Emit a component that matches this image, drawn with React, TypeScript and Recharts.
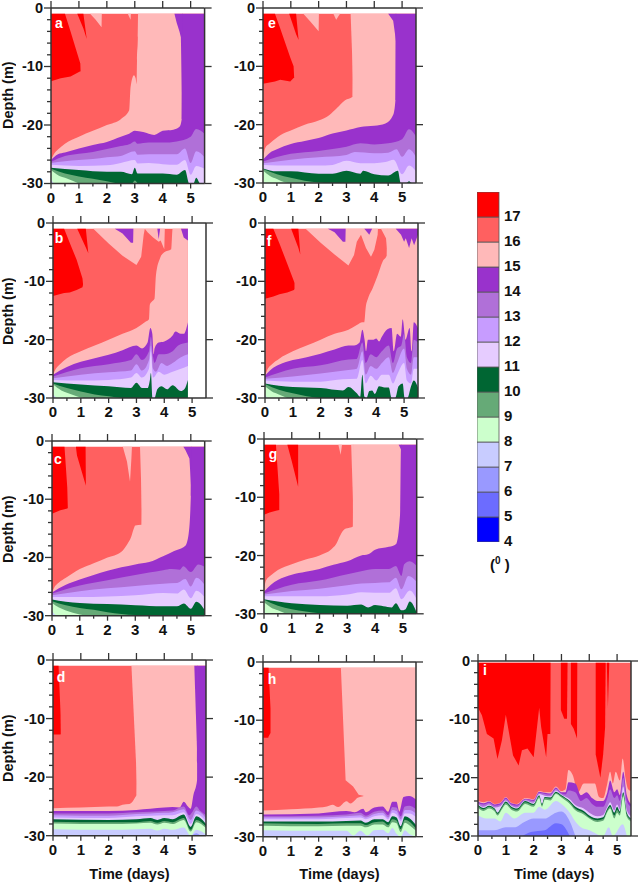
import React from 'react';
import { ComposedChart, BarChart, Bar, Area, XAxis, YAxis } from 'recharts';

type P2 = [number, number];
type P3 = [number, number, number];

const FONT = '"Liberation Sans", Arial, sans-serif';
const INK = '#333333';

// colour of each band, keyed by the band's upper temperature
const BAND_COLORS: Record<number, string> = {
  18: '#FF0000', 17: '#FF6060', 16: '#FFB9B9', 15: '#9932CC', 14: '#B070D8', 13: '#C79CFF', 12: '#E6CCFF',
  11: '#006633', 10: '#66AA77', 9: '#CCFFCC', 8: '#C8CCFF', 7: '#9999FF', 6: '#6C6CFF', 5: '#0000FF',
};
const legendLevels = [4, 5, 6, 7, 8, 9, 10, 11, 12, 13, 14, 15, 16, 17];
const legendValues = [1, 1, 1, 1, 1, 1, 1, 1, 1, 1, 1, 1, 1, 1];
const majorDays = [0, 1, 2, 3, 4, 5];
const allDays = [0, 0.5, 1, 1.5, 2, 2.5, 3, 3.5, 4, 4.5, 5];
const depthsMajor = [0, -10, -20, -30];
const depthsAll = [0, -2, -4, -6, -8, -10, -12, -14, -16, -18, -20, -22, -24, -26, -28, -30];

// ---------- panel a ----------
const a16: P2[] = [[0,-26],[.1,-25],[.25,-24.2],[.5,-23.2],[1,-22],[1.5,-21],[2,-20],[2.5,-19],[2.8,-17.5],[2.85,-13.5],[2.97,-11.5],[3.03,-12],[3.07,-13],[3.08,-9],[3.11,-5],[3.12,-1],[5.5,-1]];
const a15: P2[] = [[0,-26],[.25,-25],[.5,-24.7],[1,-24],[1.5,-23.4],[2,-22.9],[2.5,-22],[2.8,-21.5],[3,-21],[3.3,-21.2],[3.7,-21.7],[4,-21],[4.38,-20.8],[4.6,-20.3],[4.68,-19],[4.69,-1],[5.5,-1]];
const a14: P2[] = [[0,-26.3],[.5,-25.3],[1,-24.9],[1.5,-24.6],[2,-24.1],[2.5,-23.6],[2.8,-23.3],[3,-22.8],[3.1,-23.2],[3.5,-23],[4,-23],[4.5,-22.8],[5,-22],[5.2,-20.7],[5.5,-21.5]];
const a13: P2[] = [[0,-26.5],[.5,-26.2],[1,-26],[1.5,-25.8],[2,-25.5],[2.5,-25.3],[3,-24.5],[3.1,-25.1],[3.5,-25],[4,-25],[4.5,-25],[4.8,-24],[5,-26.5],[5.2,-24.5],[5.5,-25.5]];
const a12: P2[] = [[0,-26.8],[1,-27],[2,-26.9],[2.5,-26.5],[3,-26],[3.1,-26.6],[3.5,-26.5],[4,-26.7],[4.5,-26.8],[4.8,-26],[5,-28.5],[5.2,-27],[5.5,-27.5]];
const a11: P2[] = [[0,-27.3],[1,-27.7],[2,-28],[2.5,-28],[2.9,-28.4],[3,-27.3],[3.1,-28.3],[3.5,-28.3],[4,-28.3],[4.5,-28.5],[4.8,-27.7],[4.95,-30],[5.1,-30],[5.2,-29],[5.35,-30],[5.5,-30]];
const a10: P2[] = [[0,-27.5],[.5,-28.3],[1,-28.8],[1.5,-29.2],[2,-29.6],[2.5,-30],[2.9,-30],[3,-29.5],[3.1,-30]];
const a9: P2[] = [[0,-27.7],[.3,-28.7],[.5,-29],[1,-30]];
const a8: P2[] = [[0,-29.3],[.1,-30]];
const a17p: P3[] = [[0,-1,-12.5],[.35,-1,-12],[.5,-1,-11.9],[.7,-4,-11.7],[1.05,-9.5,-10.8],[1.06,-10.8,-10.9]];
const a17s: P3[] = [[.94,-1,-1],[1.16,-1,-3.5],[1.28,-5.3,-5.3]];
const aPink1: P3[] = [[1.4,-1,-1],[1.6,-1,-2],[1.81,-1,-3.3],[1.82,-1,-1]];
const aPink2: P3[] = [[2.75,-1,-1],[2.85,-1,-2],[2.86,-1,-1]];
const aPurple: P3[] = [[4.42,-1,-1],[4.5,-1,-2.5],[4.6,-1,-4],[4.65,-1,-5],[4.71,-1,-19]];

// ---------- panel b ----------
const b16: P2[] = [[0,-26],[.1,-25],[.25,-24.2],[.5,-23.2],[1,-22],[1.5,-21],[2,-20],[2.5,-19],[3,-18],[3.3,-17],[3.45,-16.5],[3.48,-14],[3.55,-13.5],[3.65,-13],[3.7,-9],[3.85,-6],[4,-5],[4.25,-4.5],[4.3,-1],[4.85,-1]];
const b15: P2[] = [[0,-26],[.5,-24.7],[1,-23.8],[1.5,-23.2],[2,-22.6],[2.5,-21.8],[3,-21],[3.2,-21.5],[3.4,-20.5],[3.5,-18],[3.57,-19],[3.62,-22.5],[3.65,-21.5],[3.8,-20.5],[4,-20.3],[4.3,-19.3],[4.4,-18.6],[4.6,-19],[4.7,-19],[4.85,-17]];
const b14: P2[] = [[0,-26.3],[1,-24.9],[2,-24.2],[2.8,-23.5],[3,-22.5],[3.2,-23.5],[3.45,-22],[3.52,-19.5],[3.6,-23],[3.65,-24],[3.8,-22.5],[4,-22.5],[4.3,-22],[4.5,-21],[4.85,-20.5]];
const b13: P2[] = [[0,-26.6],[1,-26],[2,-25.6],[2.8,-25.3],[3,-24.2],[3.2,-25.3],[3.45,-23.5],[3.52,-21],[3.6,-25],[3.7,-25.5],[3.9,-24],[4.1,-24.5],[4.3,-24],[4.6,-23],[4.85,-22.5]];
const b12: P2[] = [[0,-26.9],[1,-27],[2,-26.9],[2.8,-26.5],[3,-25.7],[3.2,-26.5],[3.45,-25],[3.52,-22],[3.6,-26.5],[3.8,-25.5],[4,-26],[4.3,-25.5],[4.6,-25],[4.85,-24.5]];
const b11: P2[] = [[0,-27.3],[1,-27.7],[2,-28],[2.8,-28.3],[3,-27.4],[3.2,-28.3],[3.4,-28.3],[3.48,-27],[3.52,-25.7],[3.58,-30],[3.65,-30],[3.75,-28.5],[3.9,-28],[4.1,-28.5],[4.3,-27.8],[4.6,-28.8],[4.72,-28.5],[4.85,-26.9]];
const b10: P2[] = [[0,-27.5],[.5,-28.3],[1,-28.9],[1.5,-29.4],[2,-29.7],[2.5,-30]];
const b9: P2[] = [[0,-27.7],[.3,-28.7],[.5,-29.1],[1,-29.9],[1.1,-30]];
const b8: P2[] = [[0,-29.4],[.12,-30]];
const b17p: P3[] = [[0,-1,-12.5],[.4,-1,-12],[.6,-3.4,-11.9],[.85,-6.3,-11.5],[1.06,-9.5,-11],[1.08,-10.5,-10.6]];
const b17s: P3[] = [[.87,-1,-1],[1.18,-1,-4.2],[1.27,-5.2,-5.2]];
const bPink1: P3[] = [[1.45,-1,-1],[2,-1,-3.5],[2.5,-1,-5.6],[3,-1,-7.2],[3.17,-1,-5.8],[3.26,-1,-2],[3.3,-1,-1]];
const bPink2: P3[] = [[3.3,-1,-1],[3.4,-1,-1.6],[3.6,-1,-2.5],[3.8,-1,-3.2],[3.87,-1,-3],[4,-1,-4.5],[4.02,-1,-1]];
const bPurple1: P3[] = [[2.22,-1,-1],[2.5,-1,-1.8],[2.8,-1,-3.4],[2.88,-1,-3.4],[2.89,-1,-1]];
const bPurple2: P3[] = [[3.75,-1,-1],[3.8,-1,-2.8],[3.85,-1,-1]];
const bPurple3: P3[] = [[4.6,-1,-1],[4.7,-1,-2.5],[4.85,-1,-3]];

// ---------- panel c ----------
const c16: P2[] = [[0,-26],[.1,-25],[.25,-24.3],[.5,-23.5],[1,-22],[1.5,-21],[2,-20],[2.5,-19],[2.7,-17.8],[2.85,-16.5],[2.95,-15],[3,-14.5],[3.22,-14.4],[3.23,-1],[5.5,-1]];
const c15: P2[] = [[0,-26],[.5,-24.7],[1,-23.8],[1.5,-23],[2,-22.3],[2.5,-21.7],[3,-21.2],[3.5,-20.8],[4,-19.8],[4.4,-18.9],[4.8,-18],[4.92,-16],[5,-9.5],[5.01,-1],[5.5,-1]];
const c14: P2[] = [[0,-26.2],[1,-24.8],[2,-23.9],[3,-23],[3.5,-22.6],[4,-22.2],[4.3,-22],[4.6,-22.1],[4.73,-21.5],[5,-22.5],[5.27,-21.2],[5.5,-21.6]];
const c13: P2[] = [[0,-26.5],[1,-25.8],[2,-25.3],[3,-24.9],[4,-24.5],[4.5,-24.4],[4.8,-23.7],[5,-25],[5.2,-23.5],[5.5,-24.7]];
const c12: P2[] = [[0,-26.8],[1,-26.8],[2,-26.7],[3,-26.5],[4,-26.1],[4.5,-26.2],[4.75,-25.5],[5,-27],[5.2,-25.7],[5.5,-26.8]];
const c11: P2[] = [[0,-27.2],[.5,-27.6],[1,-27.8],[2,-28],[3,-28.2],[4,-28.4],[4.5,-28.4],[4.75,-27.9],[5,-28.8],[5.2,-27.6],[5.5,-29]];
const c10: P2[] = [[0,-27.5],[.5,-28.2],[1,-28.7],[1.5,-29],[2,-29.4],[2.5,-29.7],[3,-29.9],[3.3,-30]];
const c9: P2[] = [[0,-27.8],[.25,-28.6],[.5,-29.1],[1,-29.8],[1.2,-30]];
const c8: P2[] = [[0,-29.2],[.1,-29.8],[.2,-30]];
const c17p: P3[] = [[0,-1,-12.5],[.3,-1,-11.9],[.45,-1,-11.7],[.55,-8,-11.6],[.57,-11.5,-11.5]];
const c17s: P3[] = [[.86,-1,-1],[.9,-1,-2.5],[1.21,-1,-7.5],[1.22,-7.7,-7.7]];
const cPink: P3[] = [[2.55,-1,-1],[2.7,-1,-3.5],[2.81,-1,-7],[2.86,-1,-3],[2.88,-1,-1]];
const cPink2: P3[] = [[3.17,-1,-1],[3.25,-1,-13]];
const cPurple: P3[] = [[4.73,-1,-1],[4.8,-1,-1.5],[4.95,-1,-3],[5.03,-1,-9.5]];

// ---------- panel d ----------
const d16: P2[] = [[0,-25.3],[1,-25.2],[2,-25],[2.3,-25],[2.5,-24.7],[2.75,-24.6],[2.95,-23.5],[3,-23],[3.01,-1],[5.5,-1]];
const d15: P2[] = [[0,-25.8],[1,-25.8],[2,-25.8],[3,-25.6],[3.5,-25.4],[4,-25.2],[4.3,-25.1],[4.55,-25.2],[4.7,-24.2],[4.85,-25],[4.95,-25.4],[5.05,-23],[5.18,-20.5],[5.19,-1],[5.5,-1]];
const d14: P2[] = [[0,-26.2],[2,-26.2],[3,-26],[4,-25.8],[4.3,-25.7],[4.7,-25],[4.9,-26.5],[5,-26],[5.15,-25],[5.3,-25.8],[5.5,-26.5]];
const d13: P2[] = [[0,-26.5],[2,-26.6],[3,-26.3],[3.5,-26.2],[4,-26.1],[4.3,-26],[4.7,-25.5],[4.95,-27.3],[5.15,-25.7],[5.5,-27]];
const d12: P2[] = [[0,-26.9],[2,-27],[3,-26.7],[3.5,-26.6],[4,-26.5],[4.3,-26.5],[4.7,-26],[4.95,-28],[5.15,-26.3],[5.5,-27.5]];
const d11: P2[] = [[0,-27.2],[2,-27.3],[3,-27.2],[3.5,-27],[3.75,-27.3],[4,-27],[4.3,-27.2],[4.7,-26.4],[4.95,-28.5],[5.15,-26.7],[5.5,-28]];
const d10: P2[] = [[0,-27.6],[2,-27.7],[3,-27.7],[3.5,-27.5],[3.75,-27.8],[4,-27.5],[4.3,-27.7],[4.7,-27],[4.95,-29],[5.15,-27.3],[5.5,-28.4]];
const d9: P2[] = [[0,-27.9],[2,-28],[3,-27.9],[3.5,-27.8],[3.75,-28.1],[4,-27.8],[4.3,-28],[4.7,-27.3],[4.95,-29.3],[5.15,-27.7],[5.5,-28.7]];
const d8: P2[] = [[0,-28.9],[2,-29],[3,-28.9],[3.5,-28.8],[3.75,-29.1],[4,-28.8],[4.3,-29],[4.7,-28.6],[4.95,-30],[5.15,-29],[5.5,-29.8]];
const d7: P2[] = [[5,-30],[5.15,-29.6],[5.3,-30]];
const d17p: P3[] = [[0,-1,-12.7],[.2,-1,-12.7],[.27,-9,-12.7],[.28,-12.5,-12.6]];
const dPink: P3[] = [[2.82,-1,-1],[3.03,-1,-22]];
const dPurple: P3[] = [[5.08,-1,-1],[5.21,-1,-20]];

// ---------- panel e ----------
const e16: P2[] = [[0,-26],[.08,-24],[.25,-23.2],[.62,-21.8],[1,-21],[1.5,-20],[2,-19.3],[2.4,-18.3],[2.65,-17.2],[2.95,-15.8],[3.22,-15.2],[3.23,-1],[5.5,-1]];
const e15: P2[] = [[0,-26],[.25,-24.8],[.5,-24.2],[1,-23.3],[1.5,-22.8],[2,-22.3],[2.5,-21.5],[3,-21],[3.5,-20.4],[4,-20.2],[4.4,-19.8],[4.68,-18.3],[4.76,-15.8],[4.77,-1],[5.5,-1]];
const e14: P2[] = [[0,-26.3],[1,-25],[2,-24.5],[3,-23.8],[3.5,-23.2],[4,-23.4],[4.5,-23.2],[5,-22.5],[5.25,-20.8],[5.5,-22]];
const e13: P2[] = [[0,-26.6],[1,-26],[2,-25.6],[3,-25.2],[3.3,-24.7],[4,-24.9],[4.5,-24.8],[4.8,-24.2],[5,-25.5],[5.25,-24.2],[5.5,-25.5]];
const e12: P2[] = [[0,-26.9],[1,-27],[2,-27],[2.5,-26.9],[3,-26.2],[3.5,-26.6],[4,-26.6],[4.4,-26.4],[4.7,-26],[5,-28.5],[5.25,-27],[5.5,-28]];
const e11: P2[] = [[0,-27.5],[.5,-28],[1,-28],[2,-28.4],[2.5,-28.4],[3,-27.9],[3.5,-28.4],[3.6,-27.9],[4,-28.5],[4.5,-28.7],[4.85,-27.9],[4.95,-30],[5.15,-30],[5.25,-29.7],[5.35,-30],[5.5,-30]];
const e10: P2[] = [[0,-27.6],[.5,-28.5],[1,-29.1],[1.5,-29.6],[2,-29.9],[2.2,-30]];
const e9: P2[] = [[0,-27.8],[.25,-28.8],[.5,-29.3],[.8,-29.9],[1,-30]];
const e8: P2[] = [[0,-29.7],[.05,-30]];
const e17p: P3[] = [[0,-1,-13],[.43,-1,-12.6],[.62,-3.5,-12.3],[.98,-8.5,-12.6],[1.1,-10,-12],[1.12,-11.9,-12]];
const e17s: P3[] = [[.94,-1,-1],[1.19,-1,-4.5],[1.28,-5.5,-5.5]];
const ePink1: P3[] = [[1.45,-1,-1],[1.7,-1,-2.3],[2,-1,-4],[2.01,-1,-1]];
const ePink2: P3[] = [[2.53,-1,-1],[2.63,-1,-2],[2.77,-1,-1]];
const ePink3: P3[] = [[3.15,-1,-1],[3.25,-1,-14]];
const ePurple: P3[] = [[4.5,-1,-1],[4.68,-1,-2.2],[4.79,-1,-6]];

// ---------- panel f ----------
const f16: P2[] = [[0,-26.2],[.1,-25],[.25,-24.2],[.5,-23.3],[1,-22],[1.5,-21],[2,-20],[2.5,-19],[3,-18.3],[3.3,-17.5],[3.5,-17],[3.57,-17],[3.62,-14.5],[3.7,-13],[3.87,-11.2],[4.05,-9],[4.23,-6.6],[4.38,-5.5],[4.39,-1],[5.5,-1]];
const f15: P2[] = [[0,-26.2],[.25,-25],[.5,-24.3],[1,-23.5],[1.5,-23],[2,-22.4],[2.5,-21.7],[3,-21],[3.2,-21],[3.4,-20.5],[3.5,-18.3],[3.58,-20],[3.63,-22],[3.7,-20],[3.9,-20],[4,-19.8],[4.1,-20.3],[4.2,-19.5],[4.4,-18.2],[4.55,-18],[4.63,-22],[4.75,-19],[4.88,-19.5],[4.95,-16.5],[5.05,-20],[5.2,-18],[5.27,-22],[5.35,-17],[5.5,-18]];
const f14: P2[] = [[0,-26.5],[1,-25],[2,-24.4],[3,-23.4],[3.3,-23.3],[3.5,-20.5],[3.62,-24],[3.8,-22.5],[4,-23],[4.2,-22],[4.45,-21],[4.6,-24],[4.75,-21.5],[4.9,-21],[5,-19],[5.1,-23],[5.25,-24],[5.35,-20],[5.5,-20.5]];
const f13: P2[] = [[0,-26.7],[1,-26.3],[2,-25.8],[3,-25.2],[3.3,-25],[3.5,-22],[3.62,-26],[3.8,-24.5],[4,-25],[4.2,-24],[4.45,-23],[4.6,-25.7],[4.75,-24],[5,-21.5],[5.1,-25],[5.25,-26],[5.35,-23],[5.5,-23]];
const f12: P2[] = [[0,-27],[1,-27.2],[2,-27.2],[2.8,-26.8],[3.3,-26.7],[3.5,-23.5],[3.62,-27.5],[3.8,-26.2],[4,-27],[4.2,-26],[4.45,-26],[4.6,-27.5],[4.75,-26],[5,-24],[5.1,-27],[5.25,-27.5],[5.35,-25],[5.5,-25]];
const f11: P2[] = [[0,-27.5],[.5,-27.9],[1,-28.1],[2,-28.3],[2.8,-28.7],[3,-28.1],[3.3,-29.2],[3.42,-29.8],[3.5,-26],[3.58,-29.8],[3.65,-30],[3.75,-28.8],[3.85,-28.7],[3.95,-29.3],[4.1,-28],[4.3,-28.2],[4.45,-28.2],[4.55,-30],[4.68,-30],[4.8,-28],[4.95,-27.5],[5.02,-30],[5.12,-30],[5.25,-28],[5.35,-27],[5.5,-28.2]];
const f10: P2[] = [[0,-27.6],[.5,-28.6],[1,-29.2],[1.5,-29.7],[2,-30]];
const f9: P2[] = [[0,-28],[.25,-28.9],[.5,-29.4],[.8,-30]];
const f8: P2[] = [[0,-29.5],[.08,-30]];
const f17p: P3[] = [[0,-1,-13],[.3,-1,-12.6],[.52,-3.5,-12.2],[.8,-7,-11.9],[1.04,-10,-11.5],[1.06,-10.3,-11.3]];
const f17s: P3[] = [[.94,-1,-1],[1.2,-1,-4.3],[1.27,-5.4,-5.4]];
const fPink1: P3[] = [[1.46,-1,-1],[2,-1,-3.4],[2.5,-1,-5.4],[3,-1,-7.3],[3.2,-1,-5.5],[3.3,-1,-3.2],[3.45,-1,-2],[3.63,-1,-4.3],[3.81,-1,-5.8],[3.93,-1,-4.6],[4.05,-1,-2],[4.06,-1,-1]];
const fPink2: P3[] = [[4.17,-1,-1],[4.35,-1,-2.6],[4.41,-1,-5.5]];
const fPurple1: P3[] = [[2.26,-1,-1],[2.5,-1,-1.6],[2.8,-1,-3.2],[2.89,-1,-3.2],[2.9,-1,-1]];
const fPurple2: P3[] = [[3.57,-1,-1],[3.75,-1,-2],[3.85,-1,-1]];
const fPurple3: P3[] = [[4.7,-1,-1],[4.89,-1,-2],[5,-1,-3.2],[5.06,-1,-2.6],[5.18,-1,-4.3],[5.27,-1,-2.6],[5.36,-1,-3.8],[5.5,-1,-2]];

// ---------- panel g ----------
const g16: P2[] = [[0,-26],[.07,-24.3],[.25,-23.4],[.5,-22.5],[1,-21.5],[1.5,-20.7],[2,-20],[2.5,-18.6],[2.6,-18],[2.75,-16.5],[2.9,-15.5],[3.1,-15.2],[3.2,-15],[3.21,-1],[5.5,-1]];
const g15: P2[] = [[0,-26.2],[.25,-25],[.5,-24.2],[1,-23.3],[1.5,-22.8],[2,-22.3],[2.5,-21.6],[3,-21],[3.5,-20],[3.75,-19.8],[4,-19],[4.5,-18.5],[4.76,-18],[4.9,-13],[4.93,-2],[4.94,-1],[5.5,-1]];
const g14: P2[] = [[0,-26.5],[1,-25],[2,-24.3],[3,-23.2],[3.5,-22.7],[4,-22.3],[4.5,-22.3],[4.75,-21.8],[4.95,-23.5],[5.05,-21.5],[5.25,-21],[5.5,-21.8]];
const g13: P2[] = [[0,-26.7],[1,-26.1],[2,-25.7],[3,-25.1],[3.5,-24.8],[4,-24.7],[4.5,-24.6],[4.75,-23.8],[4.95,-25.8],[5.2,-23.5],[5.5,-24.5]];
const g12: P2[] = [[0,-27],[1,-27],[2,-27],[3,-26.7],[3.5,-26.3],[4,-26.4],[4.5,-26.4],[4.75,-25.6],[4.95,-27.5],[5.25,-26],[5.5,-27.5]];
const g11: P2[] = [[0,-27.5],[.5,-27.9],[1,-28.2],[2,-28.5],[3,-28.6],[3.5,-28.4],[3.75,-28.9],[4,-28.5],[4.3,-28.7],[4.6,-28.9],[4.75,-28.2],[4.95,-29.4],[5.1,-29.2],[5.25,-27.9],[5.5,-29.8]];
const g10: P2[] = [[0,-27.6],[.5,-28.6],[1,-29.2],[1.5,-29.6],[2,-29.9],[2.2,-30]];
const g9: P2[] = [[0,-28],[.25,-28.9],[.5,-29.4],[.8,-30]];
const g8: P2[] = [[0,-29.6],[.05,-30]];
const g17p: P3[] = [[0,-1,-13],[.2,-1,-12.6],[.43,-1,-12.3],[.55,-9.5,-12.2]];
const g17s: P3[] = [[.84,-1,-1],[1,-1,-3.8],[1.23,-1,-8.2]];
const gPink: P3[] = [[2.68,-1,-1],[2.76,-1,-2.7],[2.81,-1,-1]];
const gPink2: P3[] = [[3.14,-1,-1],[3.23,-1,-14]];
const gPurple: P3[] = [[4.85,-1,-1],[4.96,-1,-2]];

// ---------- panel h ----------
const h16: P2[] = [[0,-25.5],[1,-25.3],[2,-25],[2.3,-24.8],[2.5,-24.5],[2.7,-24.9],[3,-23.9],[3.15,-24.3],[3.25,-24],[3.4,-23.3],[3.62,-23],[3.63,-1],[5.5,-1]];
const h15: P2[] = [[0,-26.2],[2,-26],[3,-25.6],[3.3,-25.8],[3.6,-25.2],[3.7,-25.8],[4,-25],[4.3,-24.8],[4.5,-25.7],[4.65,-24],[4.8,-24],[4.9,-25.7],[5.05,-23.2],[5.25,-23],[5.5,-23.6]];
const h14: P2[] = [[0,-26.5],[2,-26.4],[3,-26.2],[3.5,-25.9],[3.7,-26.4],[4,-25.7],[4.3,-25.5],[4.5,-26.3],[4.65,-24.9],[4.8,-25],[4.95,-26.5],[5.1,-24.8],[5.25,-24.7],[5.5,-25.3]];
const h13: P2[] = [[0,-26.7],[2,-26.7],[3,-26.5],[3.5,-26.3],[3.7,-26.7],[4,-26.1],[4.3,-25.9],[4.5,-26.7],[4.65,-25.4],[4.8,-25.6],[4.95,-27],[5.1,-25.4],[5.25,-25.4],[5.5,-26]];
const h12: P2[] = [[0,-27],[2,-27],[3,-26.8],[3.5,-26.7],[3.7,-27],[4,-26.5],[4.3,-26.3],[4.5,-27],[4.65,-25.9],[4.8,-26.2],[4.95,-27.3],[5.1,-26],[5.25,-26],[5.5,-26.6]];
const h11: P2[] = [[0,-27.4],[2,-27.4],[3,-27.3],[3.5,-27.2],[3.7,-27.6],[4,-27],[4.3,-27],[4.5,-27.5],[4.65,-26.5],[4.8,-26.7],[4.95,-28.2],[5.1,-26.5],[5.25,-26.8],[5.5,-28]];
const h10: P2[] = [[0,-27.7],[2,-27.8],[3,-27.7],[3.5,-27.7],[3.7,-28],[4,-27.5],[4.3,-27.4],[4.5,-28],[4.65,-27],[4.8,-27.2],[4.95,-28.7],[5.1,-27.1],[5.25,-27.4],[5.5,-28.6]];
const h9: P2[] = [[0,-28.1],[2,-28.2],[3,-28.1],[3.5,-28.1],[3.7,-28.4],[4,-27.9],[4.3,-27.9],[4.5,-28.4],[4.65,-27.5],[4.8,-27.7],[4.95,-29.2],[5.1,-27.6],[5.25,-28],[5.5,-29]];
const h8: P2[] = [[0,-28.9],[2,-29],[3,-29],[3.25,-29.8],[3.5,-29],[3.75,-29.8],[4,-28.9],[4.3,-28.8],[4.5,-29.4],[4.65,-28.5],[4.8,-29.5],[4.95,-30],[5.1,-28.9],[5.25,-29.5],[5.5,-30]];
const h17p: P3[] = [[0,-1,-13],[.19,-1,-13],[.2,-1,-12.8],[.27,-8,-12.2]];
const hPink: P3[] = [[2.8,-1,-1],[2.97,-1,-20.3],[3.24,-1,-21.4],[3.44,-1,-22.8],[3.65,-1,-23]];

// ---------- panel i ----------
const i16: P2[] = [[0,-24],[.2,-24.2],[.4,-24],[.6,-24.5],[.8,-24.3],[1,-23.3],[1.2,-24.3],[1.4,-24.5],[1.7,-23.5],[2,-23.7],[2.2,-22.3],[2.4,-22.5],[2.6,-22.5],[2.8,-21.5],[3,-22.3],[3.15,-22],[3.25,-18.7],[3.4,-19.5],[3.6,-22.5],[3.8,-21],[4,-21],[4.2,-21],[4.35,-23.3],[4.5,-23.5],[4.65,-21],[4.75,-19],[4.85,-21],[4.95,-19],[5.1,-20.5],[5.2,-16.7],[5.3,-20],[5.4,-22],[5.5,-22.3]];
const i15: P2[] = [[0,-24.1],[.2,-24.4],[.4,-24.1],[.6,-24.6],[.8,-24.4],[1,-23.4],[1.2,-24.4],[1.4,-24.6],[1.7,-23.6],[2,-23.8],[2.2,-22.4],[2.4,-22.6],[2.6,-22.7],[2.8,-21.7],[3,-22.5],[3.15,-22.5],[3.25,-20.8],[3.5,-21],[3.7,-23],[3.9,-22.5],[4.1,-23.5],[4.3,-24],[4.5,-24],[4.65,-22.5],[4.75,-20.5],[4.9,-22.5],[5,-22],[5.1,-23],[5.22,-19],[5.35,-23],[5.5,-24.5]];
const i14: P2[] = [[0,-24.3],[.2,-24.6],[.4,-24.3],[.6,-24.8],[.8,-24.6],[1,-23.6],[1.2,-24.6],[1.4,-24.8],[1.7,-23.7],[2,-24],[2.2,-22.6],[2.4,-22.8],[2.6,-22.9],[2.8,-21.9],[3,-22.7],[3.15,-22.9],[3.25,-22.2],[3.5,-22.5],[3.7,-24],[3.9,-23.5],[4.1,-24.5],[4.3,-25],[4.5,-25],[4.65,-23.5],[4.75,-22],[4.9,-23.5],[5,-23],[5.1,-24],[5.22,-20],[5.35,-24],[5.5,-25]];
const i12: P2[] = [[0,-24.5],[.2,-25],[.4,-24.6],[.6,-25.1],[.8,-24.9],[1,-23.9],[1.2,-24.8],[1.4,-25.1],[1.7,-23.9],[2,-24.3],[2.2,-22.8],[2.4,-23.1],[2.6,-23.2],[2.8,-22.2],[3,-22.9],[3.3,-23.7],[3.5,-24.7],[3.8,-25.3],[4,-26],[4.3,-26.6],[4.5,-26.4],[4.65,-25],[4.75,-24.2],[4.9,-25.6],[5,-24.6],[5.1,-25.4],[5.22,-21.5],[5.35,-25.6],[5.5,-26.6]];
const i11: P2[] = [[0,-24.7],[.2,-25.2],[.4,-24.8],[.6,-25.3],[.7,-26],[.85,-25],[1,-24.1],[1.2,-25],[1.4,-25.3],[1.7,-24],[2,-24.5],[2.2,-23],[2.3,-24.5],[2.4,-23.3],[2.6,-23.4],[2.8,-22.4],[3,-23],[3.3,-24],[3.5,-25],[3.8,-25.7],[4,-26.5],[4.3,-27],[4.5,-26.8],[4.65,-25.3],[4.75,-24.7],[4.9,-26],[5,-25],[5.1,-25.8],[5.22,-22.5],[5.35,-26],[5.5,-27]];
const i10: P2[] = [[0,-24.9],[.2,-25.4],[.4,-25],[.6,-25.5],[.7,-26.2],[.85,-25.2],[1,-24.3],[1.2,-25.2],[1.4,-25.5],[1.7,-24.2],[2,-24.7],[2.2,-23.2],[2.3,-24.7],[2.4,-23.5],[2.6,-23.6],[2.8,-22.6],[3,-23.2],[3.3,-24.2],[3.5,-25.3],[3.8,-26],[4,-26.8],[4.3,-27.3],[4.5,-27.1],[4.65,-25.6],[4.75,-25],[4.9,-26.5],[5,-25.5],[5.1,-26.1],[5.22,-22.8],[5.35,-26.3],[5.5,-27.2]];
const i9: P2[] = [[0,-25.2],[.2,-25.7],[.4,-25.3],[.6,-25.8],[.7,-26.5],[.85,-25.5],[1,-24.6],[1.2,-25.5],[1.4,-25.8],[1.7,-24.5],[2,-25],[2.2,-23.5],[2.3,-25],[2.4,-23.8],[2.6,-23.9],[2.8,-22.8],[3,-23.4],[3.3,-24.5],[3.5,-25.6],[3.8,-26.3],[4,-27],[4.3,-27.6],[4.5,-27.4],[4.65,-25.9],[4.75,-25.3],[4.9,-27],[5,-26],[5.1,-26.5],[5.22,-23.2],[5.35,-26.7],[5.5,-27.5]];
const i8: P2[] = [[0,-26.5],[.3,-27],[.6,-27],[.8,-27.5],[1,-26],[1.3,-27],[1.7,-26],[2,-26],[2.2,-25],[2.4,-25.5],[2.8,-24],[3,-24.5],[3.3,-26],[3.5,-27.5],[3.7,-28.5],[4,-29],[4.5,-30],[4.7,-28.5],[4.85,-30],[5.2,-28],[5.35,-30]];
const i7: P2[] = [[0,-29],[.3,-29],[.6,-29],[1,-28.5],[1.3,-28.5],[1.7,-27.5],[2,-27],[2.4,-27],[2.8,-26],[3,-25.8],[3.3,-27.5],[3.5,-30]];
const i6: P2[] = [[1.6,-30],[1.9,-29.3],[2.4,-29],[2.8,-27.8],[3,-28],[3.3,-30]];
const i17a: P3[] = [[0,-.3,-8],[.14,-.3,-9.3],[.32,-.3,-12.5],[.56,-.3,-13.3],[.7,-.3,-16.8],[.86,-.3,-13.6],[1,-.3,-9.2],[1.1,-.3,-11.9],[1.26,-.3,-16.2],[1.46,-.3,-17.9],[1.58,-.3,-15.3],[1.78,-.3,-15],[2,-.3,-16.5],[2.2,-.3,-8],[2.27,-.3,-11.3],[2.45,-.3,-16.5],[2.5,-.3,-12.5],[2.6,-.3,-12.5],[2.61,-.3,-.3]];
const i17b: P3[] = [[2.98,-.3,-8.4],[3.1,-.3,-9.9],[3.2,-.3,-9.9],[3.22,-.3,-.3]];
const i17c: P3[] = [[3.34,-.3,-10.8],[3.44,-.3,-11.6],[3.56,-.3,-13.3],[3.57,-.3,-.3]];
const i17d: P3[] = [[4.23,-.3,-16],[4.4,-.3,-20],[4.5,-.3,-16],[4.57,-.3,-11.3],[4.59,-.3,-.3]];
const i17e: P3[] = [[4.63,-.3,-.3],[4.67,-.3,-8],[4.72,-.3,-.3]];

// surfaces under everything else in a panel
const baseFull: P2[] = [[0,-1],[5.5,-1]];
const baseShort: P2[] = [[0,-1],[4.85,-1]];
const baseTall: P2[] = [[0,-.3],[5.5,-.3]];

type Layer = { band: number; iso?: P2[]; patch?: P3[] };
const iso = (band: number, pts: P2[]): Layer => ({ band, iso: pts });
const patch = (band: number, pts: P3[]): Layer => ({ band, patch: pts });

type Panel = {
  letter: string; x0: number; x1: number; y0: number; y1: number;
  lx: number; ly: number; depthLabel?: boolean; timeLabel?: boolean; layers: Layer[];
};

const panels: Panel[] = [
  { letter: 'a', x0: 51, x1: 204.6, y0: 7.5, y1: 183, lx: 59, ly: 23, depthLabel: true, layers: [
    iso(17, baseFull), iso(16, a16), iso(15, a15), iso(14, a14), iso(13, a13), iso(12, a12), iso(11, a11), iso(10, a10), iso(9, a9), iso(8, a8),
    patch(18, a17p), patch(18, a17s), patch(16, aPink1), patch(16, aPink2), patch(15, aPurple) ] },
  { letter: 'b', x0: 53, x1: 206, y0: 223, y1: 398, lx: 59, ly: 238, depthLabel: true, layers: [
    iso(17, baseShort), iso(16, b16), iso(15, b15), iso(14, b14), iso(13, b13), iso(12, b12), iso(11, b11), iso(10, b10), iso(9, b9), iso(8, b8),
    patch(18, b17p), patch(18, b17s), patch(16, bPink1), patch(16, bPink2), patch(15, bPurple1), patch(15, bPurple2), patch(15, bPurple3) ] },
  { letter: 'c', x0: 52, x1: 204.7, y0: 441.3, y1: 616, lx: 58, ly: 459, depthLabel: true, layers: [
    iso(17, baseFull), iso(16, c16), iso(15, c15), iso(14, c14), iso(13, c13), iso(12, c12), iso(11, c11), iso(10, c10), iso(9, c9), iso(8, c8),
    patch(18, c17p), patch(18, c17s), patch(16, cPink), patch(16, cPink2), patch(15, cPurple) ] },
  { letter: 'd', x0: 53, x1: 206, y0: 660, y1: 835.7, lx: 61, ly: 677, depthLabel: true, timeLabel: true, layers: [
    iso(17, baseFull), iso(16, d16), iso(15, d15), iso(14, d14), iso(13, d13), iso(12, d12), iso(11, d11), iso(10, d10), iso(9, d9), iso(8, d8), iso(7, d7),
    patch(18, d17p), patch(16, dPink), patch(15, dPurple) ] },
  { letter: 'e', x0: 262.7, x1: 415.7, y0: 8, y1: 183, lx: 272, ly: 23, layers: [
    iso(17, baseFull), iso(16, e16), iso(15, e15), iso(14, e14), iso(13, e13), iso(12, e12), iso(11, e11), iso(10, e10), iso(9, e9), iso(8, e8),
    patch(18, e17p), patch(18, e17s), patch(16, ePink1), patch(16, ePink2), patch(16, ePink3), patch(15, ePurple) ] },
  { letter: 'f', x0: 265.3, x1: 418.3, y0: 223, y1: 398, lx: 269, ly: 241, layers: [
    iso(17, baseFull), iso(16, f16), iso(15, f15), iso(14, f14), iso(13, f13), iso(12, f12), iso(11, f11), iso(10, f10), iso(9, f9), iso(8, f8),
    patch(18, f17p), patch(18, f17s), patch(16, fPink1), patch(16, fPink2), patch(15, fPurple1), patch(15, fPurple2), patch(15, fPurple3) ] },
  { letter: 'g', x0: 264, x1: 416.7, y0: 438.5, y1: 613.3, lx: 273, ly: 454, layers: [
    iso(17, baseFull), iso(16, g16), iso(15, g15), iso(14, g14), iso(13, g13), iso(12, g12), iso(11, g11), iso(10, g10), iso(9, g9), iso(8, g8),
    patch(18, g17p), patch(18, g17s), patch(16, gPink), patch(16, gPink2), patch(15, gPurple) ] },
  { letter: 'h', x0: 263, x1: 416, y0: 662, y1: 836.7, lx: 272, ly: 679, timeLabel: true, layers: [
    iso(17, baseFull), iso(16, h16), iso(15, h15), iso(14, h14), iso(13, h13), iso(12, h12), iso(11, h11), iso(10, h10), iso(9, h9), iso(8, h8),
    patch(18, h17p), patch(16, hPink) ] },
  { letter: 'i', x0: 477.7, x1: 630.7, y0: 660.7, y1: 835.7, lx: 485, ly: 670, timeLabel: true, layers: [
    iso(17, baseTall), iso(16, i16), iso(15, i15), iso(14, i14), iso(12, i12), iso(11, i11), iso(10, i10), iso(9, i9), iso(8, i8), iso(7, i7), iso(6, i6),
    patch(18, i17a), patch(18, i17b), patch(18, i17c), patch(18, i17d), patch(18, i17e) ] },
];

const LEFT = 51, TOP = 10, RIGHT = 7.3, BOTTOM = 30;

const textStyle = { fontFamily: FONT, fontWeight: 700, fill: '#111' } as const;
const htmlText = { position: 'absolute', fontFamily: FONT, fontWeight: 700, color: '#111', whiteSpace: 'nowrap', lineHeight: '18px', zIndex: 5 } as const;

const BottomTick = (p: any) => {
  const v = p.payload.value;
  const major = Number.isInteger(v);
  return (
    <g>
      <line x1={p.x} x2={p.x} y1={p.y} y2={p.y + (major ? 5 : 3)} stroke={INK} strokeWidth={1.3} />
      {major && <text x={p.x} y={p.y + 19.5} textAnchor="middle" fontSize={15} {...textStyle}>{v}</text>}
    </g>
  );
};
const LeftTick = (p: any) => {
  const v = p.payload.value;
  const major = v % 10 === 0;
  return (
    <g>
      <line x1={p.x} x2={p.x - (major ? 7 : 4)} y1={p.y} y2={p.y} stroke={INK} strokeWidth={1.3} />
      {major && <text x={p.x - 8} y={p.y + 5} textAnchor="end" fontSize={14.5} {...textStyle}>{v}</text>}
    </g>
  );
};
const TopTick = (p: any) => <line x1={p.x} x2={p.x} y1={p.y} y2={p.y - 7} stroke={INK} strokeWidth={1.3} />;
const RightTick = (p: any) => <line x1={p.x} x2={p.x + 7} y1={p.y} y2={p.y} stroke={INK} strokeWidth={1.3} />;

function PanelChart({ panel }: { panel: Panel }) {
  const w = panel.x1 - panel.x0, h = panel.y1 - panel.y0;
  const left = panel.x0 - LEFT, top = panel.y0 - TOP;
  const width = LEFT + w + RIGHT, height = TOP + h + BOTTOM;
  const frameRows = baseFull.map(([t, d]) => ({ t, r: [-30, d] }));
  return (
    <>
      <div style={{ position: 'absolute', left, top, width, height }}>
        <ComposedChart width={width} height={height} margin={{ top: 0, right: 0, bottom: 0, left: 0 }}>
          <XAxis xAxisId="b" dataKey="t" type="number" domain={[0, 5.5]} ticks={allDays} interval={0} height={BOTTOM}
            tickSize={0} tickMargin={0} tickLine={false} tick={BottomTick} allowDataOverflow
            axisLine={{ stroke: INK, strokeWidth: 1.5 }} />
          <XAxis xAxisId="t" dataKey="t" orientation="top" type="number" domain={[0, 5.5]} ticks={majorDays} interval={0} height={TOP}
            tickSize={0} tickMargin={0} tickLine={false} tick={TopTick} allowDataOverflow axisLine={{ stroke: INK, strokeWidth: 1.5 }} />
          <YAxis yAxisId="l" type="number" domain={[-30, 0]} ticks={depthsAll} interval={0} width={LEFT}
            tickSize={0} tickMargin={0} tickLine={false} tick={LeftTick} allowDataOverflow
            axisLine={{ stroke: INK, strokeWidth: 1.5 }} />
          <YAxis yAxisId="r" orientation="right" type="number" domain={[-30, 0]} ticks={depthsMajor} interval={0} width={RIGHT}
            tickSize={0} tickMargin={0} tickLine={false} tick={RightTick} allowDataOverflow axisLine={{ stroke: INK, strokeWidth: 1.5 }} />
          <Area xAxisId="t" yAxisId="r" data={frameRows} dataKey="r" type="linear" fill="none" stroke="none" dot={false} activeDot={false} isAnimationActive={false} />
          {panel.layers.map((layer, idx) => {
            const rows = layer.iso
              ? layer.iso.map(([t, d]) => ({ t, r: [-30, d] }))
              : (layer.patch as P3[]).map(([t, up, low]) => ({ t, r: [low, up] }));
            return (
              <Area key={idx} xAxisId="b" yAxisId="l" data={rows} dataKey="r" type={layer.iso ? 'monotoneX' : 'linear'}
                fill={BAND_COLORS[layer.band]} fillOpacity={1} stroke="none" dot={false} activeDot={false}
                isAnimationActive={false} />
            );
          })}
        </ComposedChart>
      </div>
      <div style={{ ...htmlText, left: panel.lx - 10, width: 20, textAlign: 'center', top: panel.ly - 9, fontSize: 14, color: '#fff' }}>{panel.letter}</div>
      {panel.depthLabel && (
        <div style={{ ...htmlText, left: -1, width: 18, height: 100, textAlign: 'center', top: (panel.y0 + panel.y1) / 2 - 50, fontSize: 14.5, writingMode: 'vertical-rl', transform: 'rotate(180deg)' }}>Depth (m)</div>
      )}
      {panel.timeLabel && (
        <div style={{ ...htmlText, left: (panel.x0 + panel.x1) / 2 - 60, width: 120, textAlign: 'center', top: 865, fontSize: 14.5 }}>Time (days)</div>
      )}
    </>
  );
}

const legendRows = [{ name: 'scale', base: 4, ...Object.fromEntries(legendLevels.map((l, i) => [`b${l}`, legendValues[i]])) }];

function LegendBar() {
  const LW = 22, LH = 350, PAD = 10;
  const tickRight = (p: any) => (
    <text x={p.x + 5} y={p.y + 4} textAnchor="start" fontSize={15} {...textStyle}>{p.payload.value}</text>
  );
  return (
    <div style={{ position: 'absolute', left: 477.3, top: 191.7 - PAD, width: LW + 40, height: LH + 2 * PAD }}>
      <BarChart width={LW + 40} height={LH + 2 * PAD} data={legendRows} barCategoryGap={0} margin={{ top: PAD, right: 0, bottom: PAD, left: 0 }}>
        <XAxis dataKey="name" hide />
        <YAxis orientation="right" type="number" domain={[4, 18]} ticks={legendLevels} interval={0} width={40}
          axisLine={false} tickLine={false} tickSize={0} tickMargin={0} tick={tickRight} allowDataOverflow />
        <Bar dataKey="base" stackId="s" fill="none" stroke="none" isAnimationActive={false} />
        {legendLevels.map(l => (
          <Bar key={l} dataKey={`b${l}`} stackId="s" fill={BAND_COLORS[l + 1]} stroke="#555" strokeWidth={0.8} isAnimationActive={false} />
        ))}
      </BarChart>
    </div>
  );
}

export default function App() {
  return (
    <div style={{ position: 'relative', width: 638, height: 883 }}>
      <style>{`html,body{margin:0;padding:0;overflow:visible}`}</style>
      {panels.map(p => <PanelChart key={p.letter} panel={p} />)}
      <LegendBar />
      <div style={{ position: 'absolute', left: 490, top: 553, fontFamily: FONT, fontWeight: 700, fontSize: 15, color: '#111', lineHeight: '24px' }}>
        (<sup style={{ fontSize: 10, lineHeight: 0 }}>0</sup> )
      </div>
    </div>
  );
}
